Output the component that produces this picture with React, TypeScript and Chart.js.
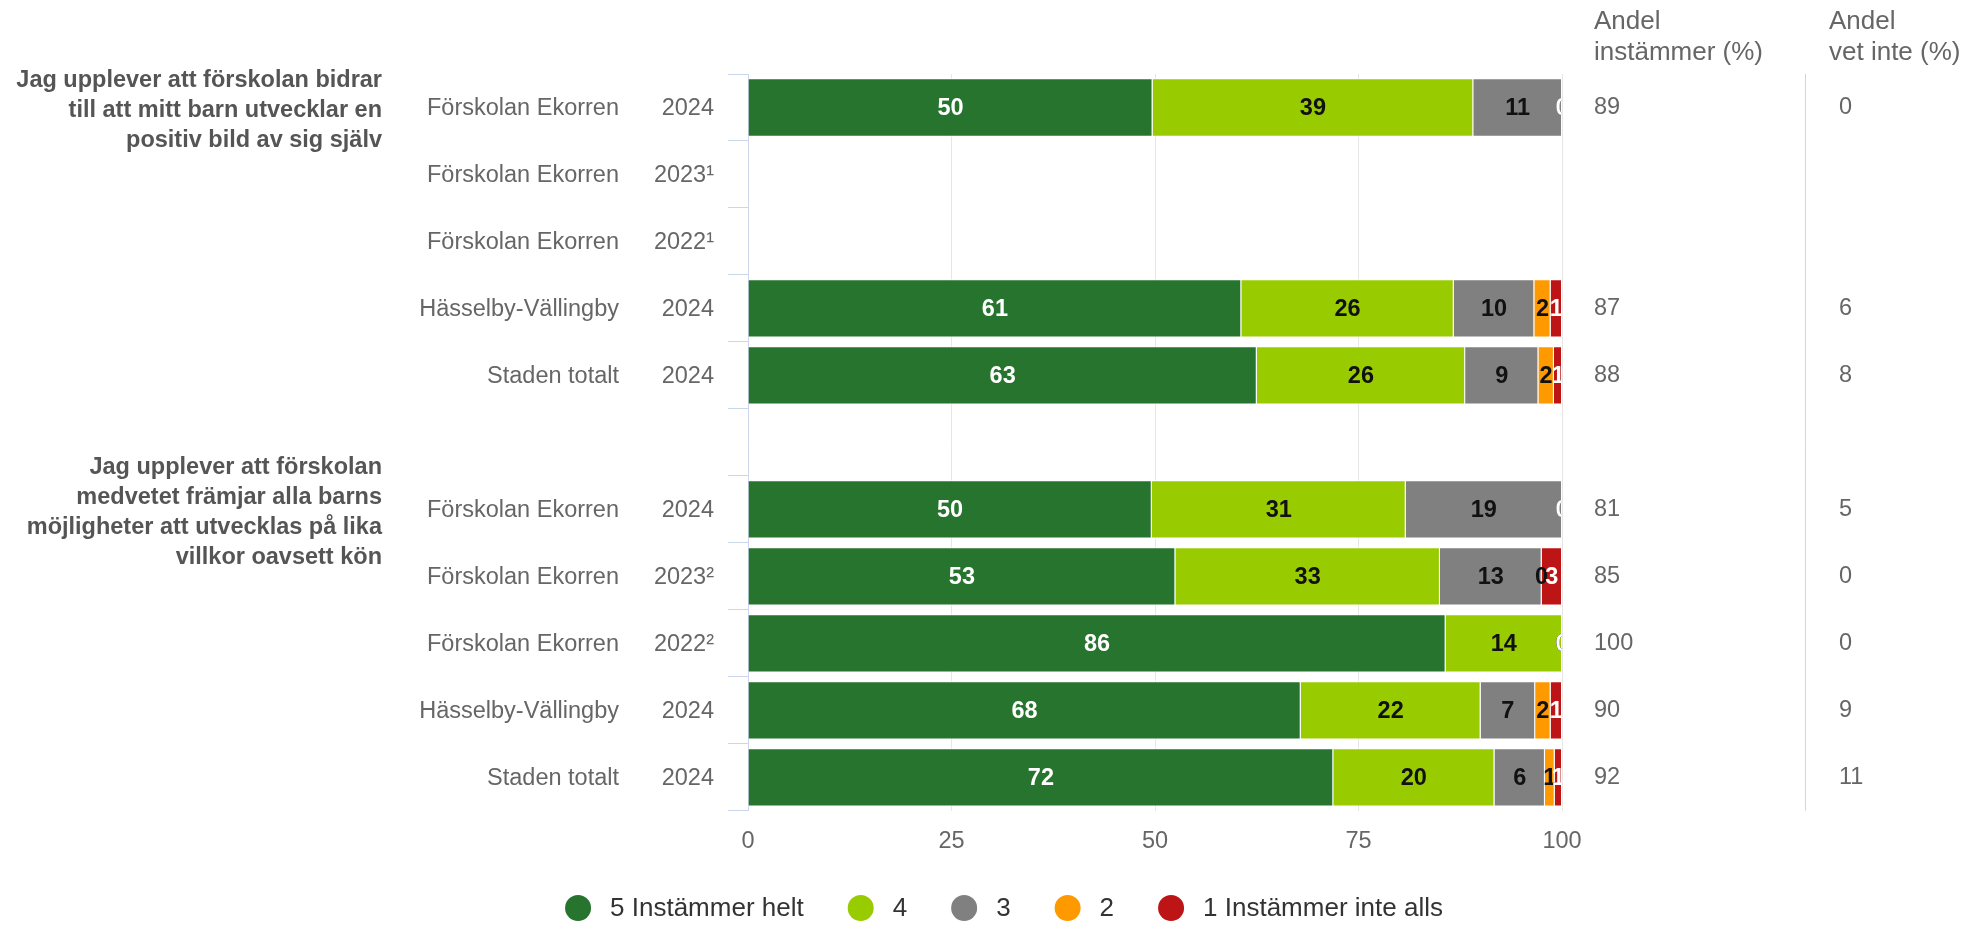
import React, { useEffect, useRef } from "react";
import { Chart, registerables } from "chart.js";

Chart.register(...registerables);

// ---------- data ----------
const questionLines = [
  ["Jag upplever att förskolan bidrar", "till att mitt barn utvecklar en", "positiv bild av sig själv"],
  ["Jag upplever att förskolan", "medvetet främjar alla barns", "möjligheter att utvecklas på lika", "villkor oavsett kön"],
];
const questionRows = [0, 6];

const rowNames = [
  "Förskolan Ekorren", "Förskolan Ekorren", "Förskolan Ekorren", "Hässelby-Vällingby", "Staden totalt",
  "",
  "Förskolan Ekorren", "Förskolan Ekorren", "Förskolan Ekorren", "Hässelby-Vällingby", "Staden totalt",
];
const rowYears = ["2024", "2023¹", "2022¹", "2024", "2024", "", "2024", "2023²", "2022²", "2024", "2024"];

const seriesNames = ["5 Instämmer helt", "4", "3", "2", "1 Instämmer inte alls"];
const seriesColors = ["#26742e", "#99cc00", "#808080", "#ff9900", "#bd1515"];
const labelColors = ["#ffffff", "#111111", "#111111", "#111111", "#ffffff"];

const s5 = [49.7, null, null, 60.6, 62.5, null, 49.6, 52.5, 85.7, 67.9, 71.9];
const s4 = [39.4, null, null, 26.1, 25.6, null, 31.2, 32.5, 14.3, 22.1, 19.8];
const s3 = [10.9, null, null, 9.9, 9.0, null, 19.2, 12.5, 0, 6.7, 6.2];
const s2 = [0, null, null, 2.0, 1.9, null, 0, 0, 0, 1.9, 1.2];
const s1 = [0, null, null, 1.4, 1.0, null, 0, 2.5, 0, 1.4, 0.9];

const shareAgree = [89, null, null, 87, 88, null, 81, 85, 100, 90, 92];
const shareDontKnow = [0, null, null, 6, 8, null, 5, 0, 0, 9, 11];
const colHeaders = [["Andel", "instämmer (%)"], ["Andel", "vet inte (%)"]];

const xMin = 0;
const xMax = 100;
const xStep = 25;

const FONT = '"Liberation Sans", Arial, Helvetica, sans-serif';

const customPlugin = {
  id: "customText",
  afterDatasetsDraw(chart: any) {
    const ctx = chart.ctx;
    const area = chart.chartArea;
    ctx.save();
    ctx.beginPath();
    ctx.rect(area.left, area.top, area.right - area.left, area.bottom - area.top);
    ctx.clip();
    ctx.font = `bold 23.5px ${FONT}`;
    ctx.textAlign = "center";
    ctx.textBaseline = "middle";
    chart.data.datasets.forEach((ds: any, i: number) => {
      const meta = chart.getDatasetMeta(i);
      meta.data.forEach((el: any, j: number) => {
        const v = ds.data[j];
        if (v === null || v === undefined) return;
        const p = el.getProps(["x", "base", "y"], true);
        ctx.fillStyle = labelColors[i];
        ctx.fillText(String(Math.round(v)), (p.x + p.base) / 2, p.y + 1);
      });
    });
    ctx.restore();
  },
  afterDraw(chart: any) {
    const ctx = chart.ctx;
    const area = chart.chartArea;
    const yScale = chart.scales.y;
    ctx.save();

    // category labels (two columns)
    ctx.font = `23.5px ${FONT}`;
    ctx.fillStyle = "#666666";
    ctx.textBaseline = "middle";
    ctx.textAlign = "right";
    rowNames.forEach((name, i) => {
      const y = yScale.getPixelForValue(i) + 1;
      if (name) ctx.fillText(name, area.left - 129, y);
      if (rowYears[i]) ctx.fillText(rowYears[i], area.left - 34, y);
    });

    // question texts
    ctx.font = `bold 23.5px ${FONT}`;
    ctx.fillStyle = "#555555";
    ctx.textBaseline = "alphabetic";
    ctx.textAlign = "right";
    questionLines.forEach((lines, q) => {
      const cy = yScale.getPixelForValue(questionRows[q]);
      const n = lines.length;
      lines.forEach((line, k) => {
        ctx.fillText(line, area.left - 366, cy + 9.5 + (k - (n - 1) / 2) * 30);
      });
    });

    // right columns
    const col1 = area.right + 32;
    const col2Head = area.right + 267;
    const col2 = area.right + 277;
    const sepX = Math.round(area.right + 243) + 0.5;
    ctx.font = `26px ${FONT}`;
    ctx.fillStyle = "#666666";
    ctx.textAlign = "left";
    ctx.textBaseline = "alphabetic";
    colHeaders[0].forEach((t, k) => ctx.fillText(t, col1, 29 + k * 31));
    colHeaders[1].forEach((t, k) => ctx.fillText(t, col2Head, 29 + k * 31));

    ctx.font = `23.5px ${FONT}`;
    ctx.textBaseline = "middle";
    shareAgree.forEach((v, i) => {
      if (v === null) return;
      ctx.fillText(String(v), col1, yScale.getPixelForValue(i));
    });
    shareDontKnow.forEach((v, i) => {
      if (v === null) return;
      ctx.fillText(String(v), col2, yScale.getPixelForValue(i));
    });

    ctx.strokeStyle = "#ccd6eb";
    ctx.lineWidth = 1;
    ctx.beginPath();
    ctx.moveTo(sepX, area.top);
    ctx.lineTo(sepX, area.bottom);
    ctx.stroke();

    // legend
    ctx.font = `26px ${FONT}`;
    ctx.textBaseline = "middle";
    ctx.textAlign = "left";
    const r = 13;
    const markToText = 32;
    const textToNext = 57;
    const widths = seriesNames.map((s) => ctx.measureText(s).width);
    let total = 0;
    widths.forEach((w, i) => {
      total += markToText + w + (i < widths.length - 1 ? textToNext : 0);
    });
    total += r;
    let cx = 1004 - total / 2 + r;
    const ly = 908;
    seriesNames.forEach((s, i) => {
      ctx.fillStyle = seriesColors[i];
      ctx.beginPath();
      ctx.arc(cx, ly, r, 0, Math.PI * 2);
      ctx.fill();
      ctx.fillStyle = "#333333";
      ctx.fillText(s, cx + markToText, ly + 1);
      cx = cx + markToText + widths[i] + textToNext;
    });

    ctx.restore();
  },
};

export default function App() {
  const canvasRef = useRef<HTMLCanvasElement | null>(null);

  useEffect(() => {
    if (!canvasRef.current) return;
    const series = [s5, s4, s3, s2, s1];
    const chart = new Chart(canvasRef.current, {
      type: "bar",
      data: {
        labels: rowNames.map((n, i) => `${n} ${rowYears[i]}`),
        datasets: series.map((d, i) => ({
          label: seriesNames[i],
          data: d,
          backgroundColor: seriesColors[i],
          borderColor: "#ffffff",
          borderWidth: 1,
          barPercentage: 0.87,
          categoryPercentage: 1,
        })),
      },
      options: {
        indexAxis: "y",
        responsive: false,
        animation: false,
        devicePixelRatio: 1,
        layout: { padding: { left: 728, right: 408, top: 74, bottom: 52 } },
        plugins: {
          legend: { display: false },
          tooltip: { enabled: false },
          title: { display: false },
        },
        scales: {
          x: {
            type: "linear",
            stacked: true,
            min: xMin,
            max: xMax,
            ticks: {
              stepSize: xStep,
              color: "#666666",
              font: { family: FONT, size: 23.5 },
              padding: 17,
            },
            grid: { color: "#e6e6e6", lineWidth: 1, drawTicks: false },
            border: { display: false },
          },
          y: {
            type: "category",
            stacked: true,
            offset: true,
            ticks: { display: false },
            grid: {
              offset: true,
              drawOnChartArea: false,
              drawTicks: true,
              tickLength: 20,
              color: "#ccd6eb",
              lineWidth: 1,
            },
            border: { display: true, color: "#ccd6eb", width: 1 },
          },
        },
      } as any,
      plugins: [customPlugin],
    });
    return () => chart.destroy();
  }, []);

  return (
    <div style={{ position: "fixed", left: 0, top: 0, width: 1970, height: 925, background: "#ffffff" }}>
      <canvas ref={canvasRef} width={1970} height={925} style={{ width: 1970, height: 925, display: "block" }} />
    </div>
  );
}
